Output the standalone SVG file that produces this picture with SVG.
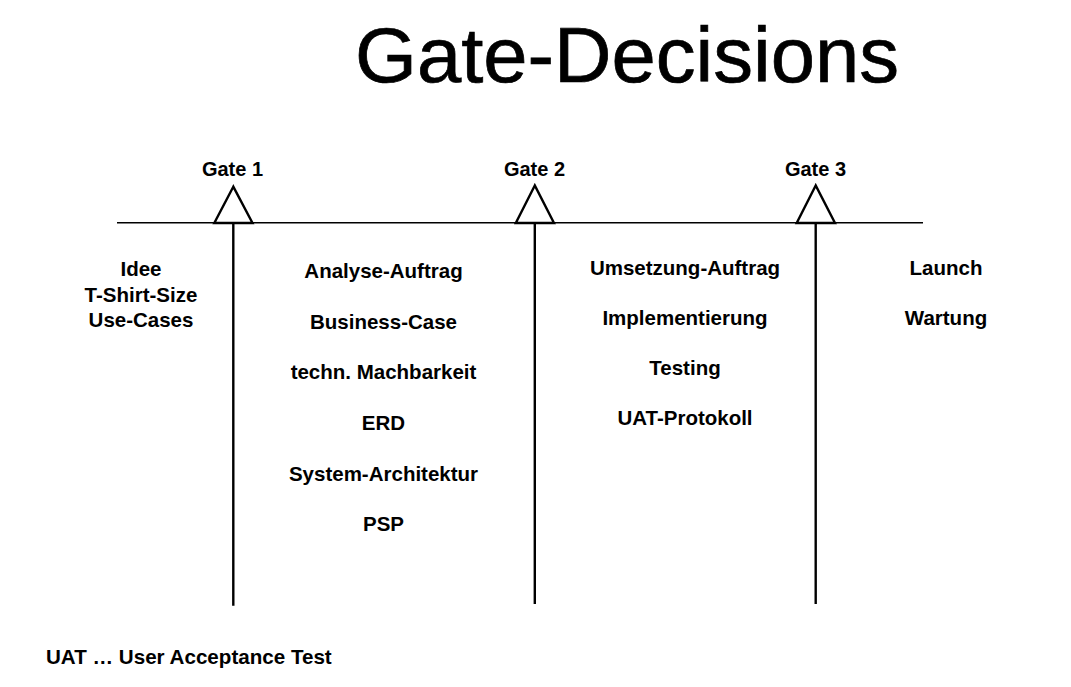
<svg xmlns="http://www.w3.org/2000/svg" width="1071" height="687" viewBox="0 0 1071 687">
<style>
text{font-family:"Liberation Sans",Arial,Helvetica,sans-serif;fill:#000}
.t{font-size:78px;stroke:#000;stroke-width:0.7}
.b{font-size:20.5px;font-weight:bold;text-anchor:middle}
.g{font-size:20px;font-weight:bold;text-anchor:middle}
.f{font-size:20.6px;font-weight:bold}
.ln{stroke:#000;fill:none}
.tri{stroke:#000;stroke-width:2.4;fill:#fff;stroke-linejoin:miter}
</style>
<rect width="1071" height="687" fill="#fff"/>
<text class="t" x="355" y="82" textLength="544" lengthAdjust="spacingAndGlyphs">Gate-Decisions</text>
<g id="connectors">
<line class="ln" x1="117" y1="222.7" x2="923" y2="222.7" stroke-width="1.6"/>
<line class="ln" x1="233.3" y1="223" x2="233.3" y2="605.7" stroke-width="2.4"/>
<line class="ln" x1="534.8" y1="223" x2="534.8" y2="604" stroke-width="2.4"/>
<line class="ln" x1="815.7" y1="223" x2="815.7" y2="604" stroke-width="2.4"/>
</g>
<g id="gate1">
<polygon class="tri" points="233.3,186.7 214.3,223 252.5,223"/>
<text class="g" x="232.5" y="175.7">Gate 1</text>
</g>
<g id="gate2">
<polygon class="tri" points="534.8,185.5 515.8,223 554,223"/>
<text class="g" x="534.5" y="175.7">Gate 2</text>
</g>
<g id="gate3">
<polygon class="tri" points="815.7,185.5 796.7,223 835,223"/>
<text class="g" x="815.5" y="175.7">Gate 3</text>
</g>
<g id="phase0">
<text class="b" x="141" y="275.7">Idee</text>
<text class="b" x="141" y="301.5">T-Shirt-Size</text>
<text class="b" x="141" y="327.2">Use-Cases</text>
</g>
<g id="phase1">
<text class="b" x="383.5" y="278">Analyse-Auftrag</text>
<text class="b" x="383.5" y="329">Business-Case</text>
<text class="b" x="383.5" y="379.3">techn. Machbarkeit</text>
<text class="b" x="383.5" y="430.2">ERD</text>
<text class="b" x="383.5" y="480.7">System-Architektur</text>
<text class="b" x="383.5" y="531">PSP</text>
</g>
<g id="phase2">
<text class="b" x="685" y="275">Umsetzung-Auftrag</text>
<text class="b" x="685" y="325">Implementierung</text>
<text class="b" x="685" y="375">Testing</text>
<text class="b" x="685" y="425">UAT-Protokoll</text>
</g>
<g id="phase3">
<text class="b" x="946" y="275">Launch</text>
<text class="b" x="946" y="325">Wartung</text>
</g>
<g id="legend">
<text class="f" x="46" y="664">UAT … User Acceptance Test</text>
</g>
</svg>
